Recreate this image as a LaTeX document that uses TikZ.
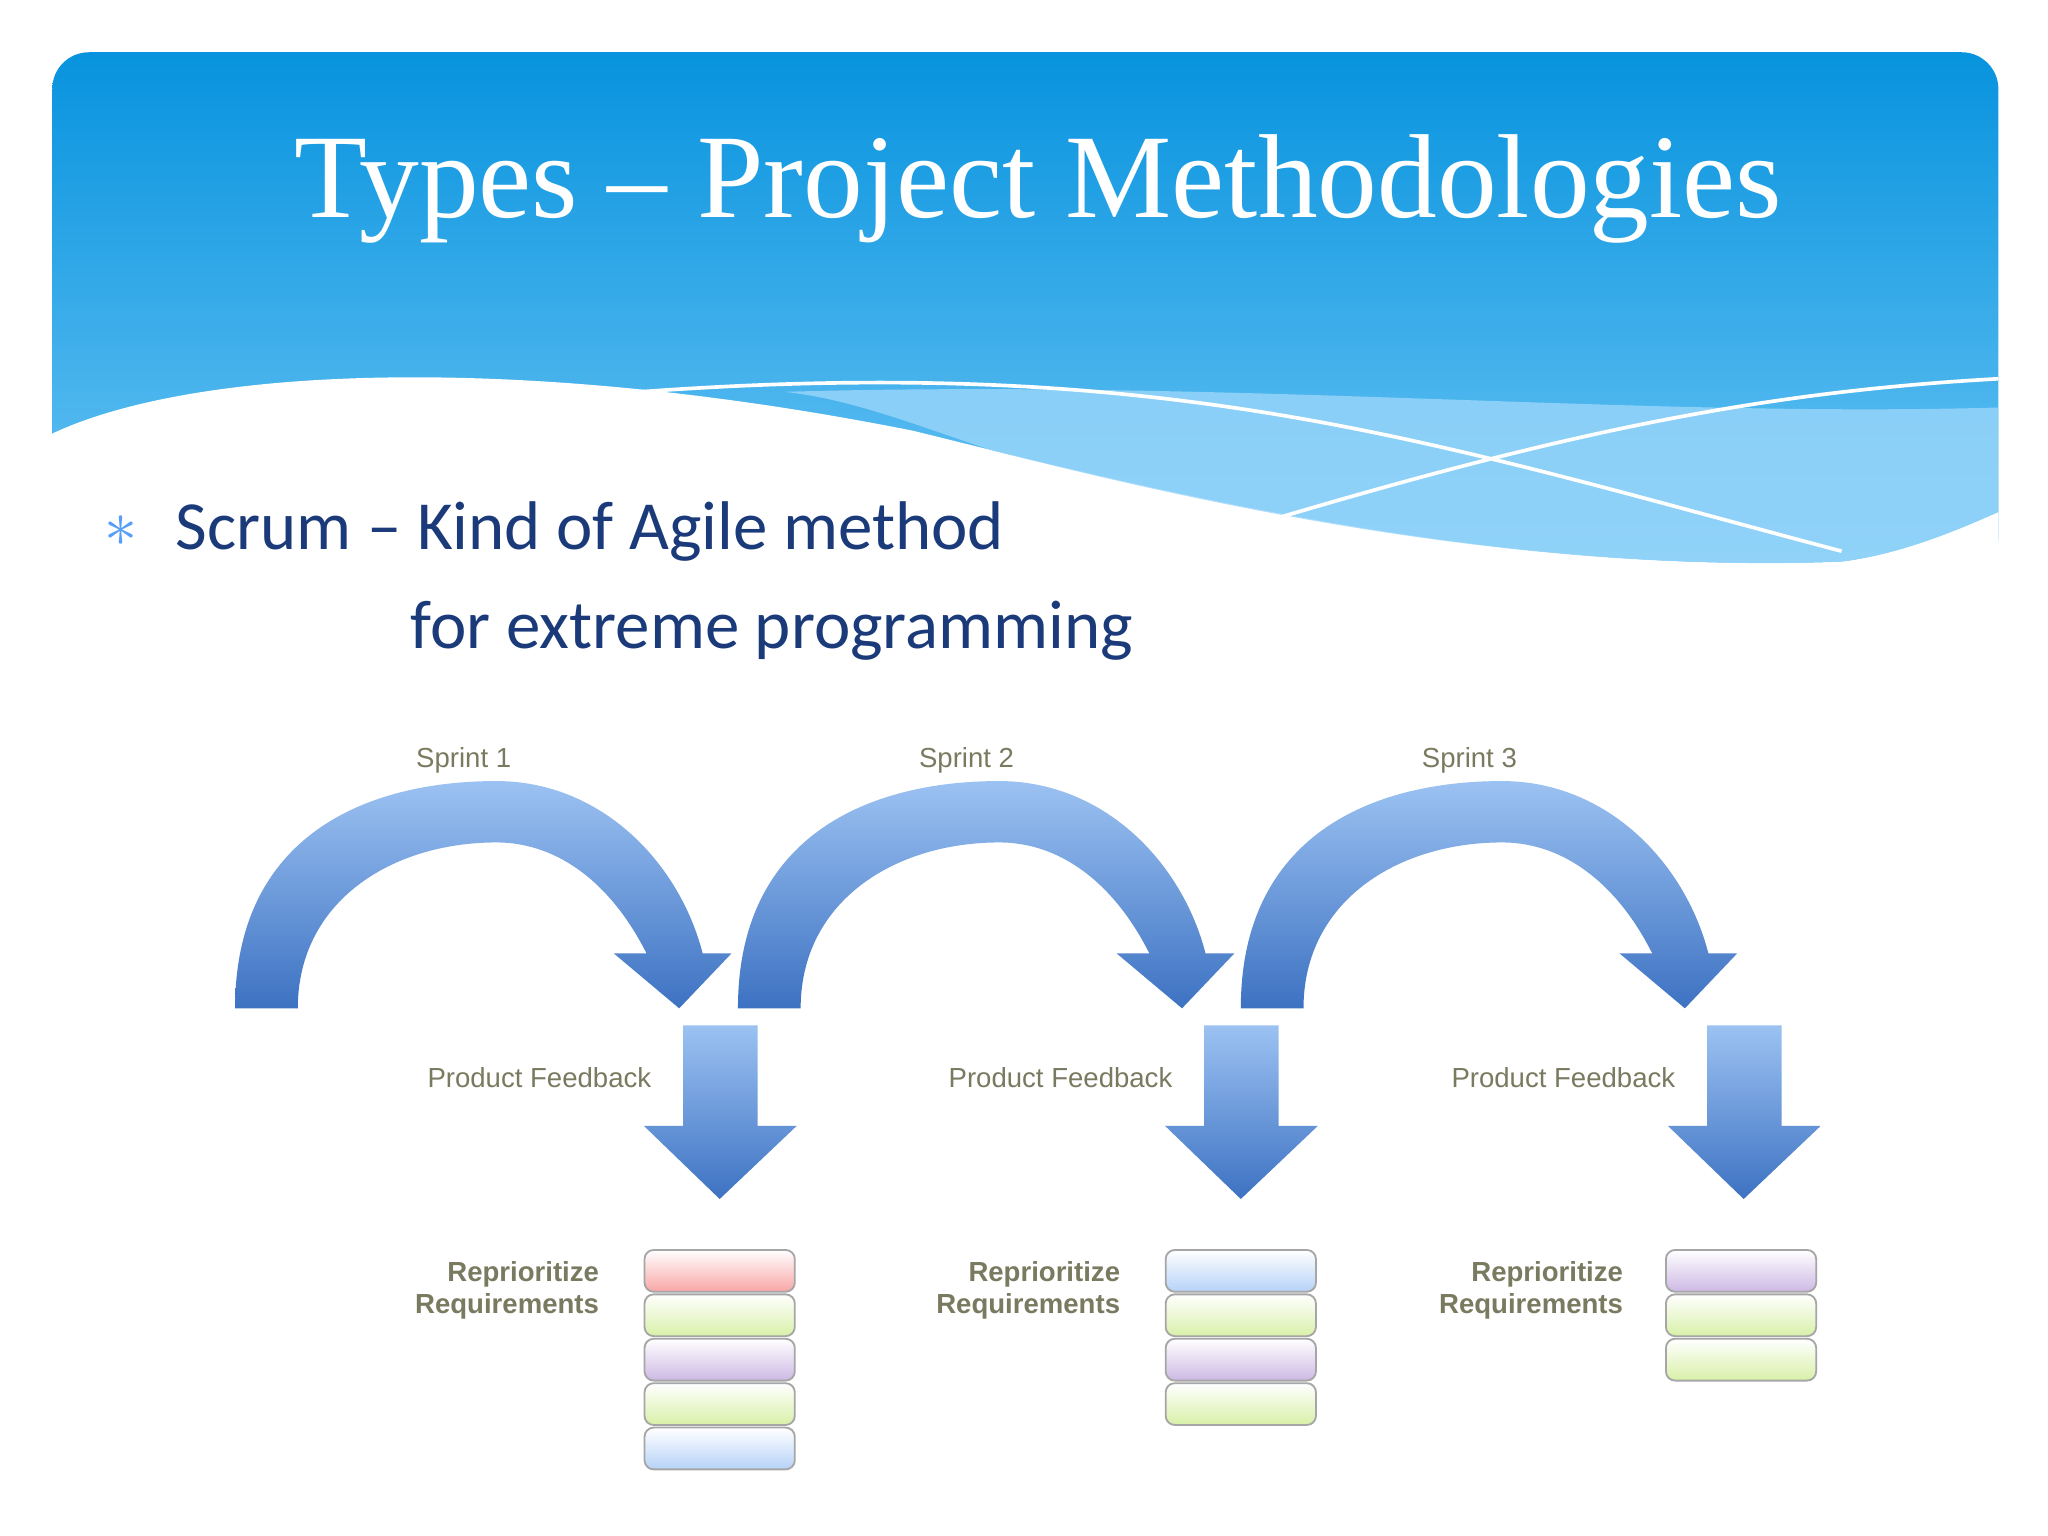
\documentclass[tikz,border=0pt]{standalone}
\usepackage{fontspec}
\setmainfont{Liberation Serif}
\newfontfamily\calfont{Carlito}
\newfontfamily\helfont{Liberation Sans}
\begin{document}
\begin{tikzpicture}[x=0.01cm,y=-0.01cm]
\definecolor{hdtop}{HTML}{0793DE}\definecolor{hdbot}{HTML}{6CC5F5}
\definecolor{band}{HTML}{9AD6FA}\definecolor{txtblue}{HTML}{1A3A7A}
\definecolor{artop}{HTML}{9CC2F2}\definecolor{arbot}{HTML}{3D72C2}
\definecolor{lab}{HTML}{7A7A60}
\tikzset{arr/.style={top color=artop,bottom color=arbot,draw=none},
 cell/.style={draw=gray!70,rounded corners=2pt,minimum width=1.15cm,minimum height=0.32cm,inner sep=0pt},
 lbl/.style={font=\helfont\fontsize{6}{7}\selectfont,text=lab},
 rlbl/.style={font=\helfont\bfseries\fontsize{6}{7}\selectfont,text=lab,align=right,anchor=east}}
\useasboundingbox (0,0) rectangle (1568,1176);
\fill[white] (0,0) rectangle (1568,1176);
% header
\shade[top color=hdtop,bottom color=hdbot,rounded corners=8pt] (40,440) -- (40,40) -- (1530,40) -- (1530,440) -- cycle;
\fill[white] (40,332) .. controls (150,280) and (400,270) .. (700,330) .. controls (900,380) and (1150,440) .. (1410,430) .. controls (1450,425) and (1490,410) .. (1530,392) -- (1530,520) -- (40,520) -- cycle;
\fill[band,opacity=0.8] (600,300) .. controls (950,290) and (1250,320) .. (1530,312) -- (1530,392) .. controls (1490,410) and (1450,425) .. (1410,430) .. controls (1150,440) and (900,380) .. (760,345) .. controls (700,325) and (650,305) .. (600,300) -- cycle;
\draw[white,line width=0.8pt] (490,300) .. controls (900,270) and (1100,340) .. (1410,422);
\draw[white,line width=0.8pt] (960,402) .. controls (1200,330) and (1350,300) .. (1530,290);
\node[text=white,font=\fontsize{26}{30}\selectfont] (title) at (795,145) {Types – Project Methodologies};
\node[text=hdbot!80!blue,font=\calfont\fontsize{15}{18}\selectfont] (bul) at (93,407) {$\ast$};
\node[anchor=west,text=txtblue,font=\calfont\fontsize{15}{18}\selectfont] (l1) at (122,407) {Scrum – Kind of Agile method};
\node[anchor=west,text=txtblue,font=\calfont\fontsize{15}{18}\selectfont] (l2) at (302,483) {for extreme programming};
% arcs
\foreach \dx/\n in {0/1,385/2,770/3}{
 \begin{scope}[xshift=\dx*0.01cm]
 \shade[arr] (180,772) .. controls (180,640) and (280,598) .. (380,598) .. controls (460,598) and (520,660) .. (538,730) -- (560,730) -- (520,772) -- (470,730) -- (495,730) .. controls (470,680) and (430,645) .. (380,645) .. controls (300,645) and (228,690) .. (228,772) -- cycle;
 \node[lbl] (s\n) at (355,582) {Sprint \n};
 \end{scope}}
% down arrows
\foreach \cx/\n in {551/1,950/2,1335/3}{
 \shade[arr] (\cx-28,785) -- (\cx+29,785) -- (\cx+29,862) -- (\cx+59,862) -- (\cx,918) -- (\cx-58,862) -- (\cx-28,862) -- cycle;
 \node[lbl,anchor=east] (pf\n) at (\cx-40,825) {Product Feedback};
 \node[rlbl] (rr\n) at (\cx-80,988) {Reprioritize\\Requirements};}
% stacks
\definecolor{cr}{HTML}{F9A6A6}\definecolor{cg}{HTML}{D8F0A8}\definecolor{cp}{HTML}{CDB8E4}\definecolor{cb}{HTML}{B6D2F8}
\foreach \c [count=\i] in {cr,cg,cp,cg,cb}{\node[cell,top color=white,bottom color=\c] (a\i) at (551,973+34*\i-34) {};}
\foreach \c [count=\i] in {cb,cg,cp,cg}{\node[cell,top color=white,bottom color=\c] (b\i) at (950,973+34*\i-34) {};}
\foreach \c [count=\i] in {cp,cg,cg}{\node[cell,top color=white,bottom color=\c] (c\i) at (1333,973+34*\i-34) {};}
\end{tikzpicture}
\end{document}
